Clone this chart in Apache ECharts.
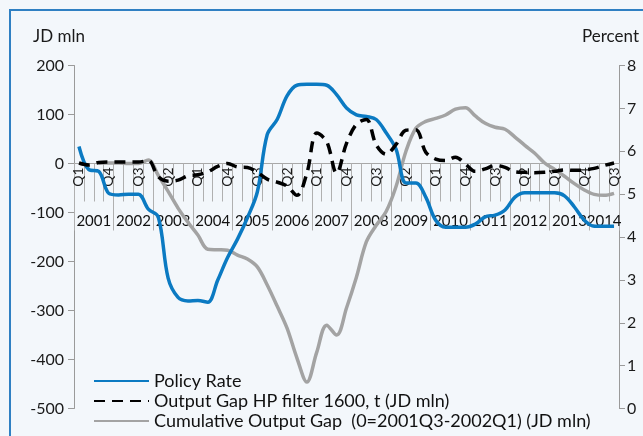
<!DOCTYPE html>
<html>
<head>
<meta charset="utf-8">
<script src="https://cdn.jsdelivr.net/npm/echarts@6/dist/echarts.min.js"></script>
<style>
html,body{margin:0;padding:0;background:#F3F7FB;}
#c{width:643px;height:436px;}
</style>
</head>
<body>
<div id="c"></div>
<script>
const years = ['2001','2002','2003','2004','2005','2006','2007','2008','2009','2010','2011','2012','2013','2014'];
const quarterNames = ['Q1','Q2','Q3','Q4'];
const lastYearQuarters = 3;
const leftTicks = [-500, 200, 100];   // min, max, interval (JD mln)
const rightTicks = [0, 8, 1];         // min, max, interval (Percent)

const policyRate = [6.11, 5.57, 5.53, 5.02, 4.98, 5.0, 5.0, 4.65, 4.47, 3.04, 2.59, 2.51, 2.52, 2.48, 2.99, 3.52, 3.95, 4.45, 5.05, 6.39, 6.74, 7.29, 7.54, 7.56, 7.56, 7.54, 7.32, 7.01, 6.85, 6.81, 6.74, 6.43, 6.05, 5.26, 5.26, 4.93, 4.39, 4.23, 4.23, 4.23, 4.30, 4.47, 4.51, 4.63, 4.93, 5.03, 5.03, 5.03, 5.03, 4.96, 4.70, 4.39, 4.25, 4.25, 4.25];
const outputGap = [1, -3, 2, 3, 3, 3, 3, 6, -27, -36, -34, -25, -23, -17, -6, 0, -7, -8, -18, -32, -38, -46, -65, -20, 62, 45, -20, 41, 80, 90, 38, 19, 39, 68, 69, 23, 9, 6, 13, -1, -16, -11, -4, -8, -17, -18, -19, -18, -16, -13, -14, -13, -10, -4, 1];
const cumGap = [null, null, 1, 1, 1, 0, 0, 7, -24, -57, -91, -120, -146, -175, -176, -177, -187, -195, -211, -248, -291, -336, -397, -446, -385, -330, -350, -295, -232, -160, -126, -98, -47, 25, 72, 86, 92, 99, 111, 114, 97, 82, 74, 70, 54, 37, 21, 1, -12, -26, -41, -54, -63, -65, -61];

const seriesNames = ['Policy Rate', 'Output Gap HP filter 1600, t (JD mln)', 'Cumulative Output Gap  (0=2001Q3-2002Q1) (JD mln)'];

const categories = [];
years.forEach((y, yi) => {
  const n = yi === years.length - 1 ? lastYearQuarters : 4;
  for (let q = 0; q < n; q++) categories.push(y + ' ' + quarterNames[q]);
});
const nQ = categories.length;

const yearCentres = {};
years.forEach((y, yi) => {
  const start = yi * 4;
  const end = Math.min(start + 4, nQ);
  yearCentres[((start + end) / 2).toFixed(1)] = y;
});

const GRID_TOP = 65.5, GRID_BOTTOM = 27.5, H = 436;
const plotH = H - GRID_TOP - GRID_BOTTOM;
// move the category axes up to the zero line of the left axis
const zeroOffset = -plotH * (0 - leftTicks[0]) / (leftTicks[1] - leftTicks[0]);

const FONT = 'Lato';
const chart = echarts.init(document.getElementById('c'), null, {renderer: 'canvas'});
chart.setOption({
  backgroundColor: '#F3F7FB',
  animation: false,
  textStyle: {fontFamily: FONT},
  graphic: [
    {type: 'rect', shape: {x: 10, y: 10, width: 700, height: 500}, style: {fill: 'none', stroke: '#2F80C3', lineWidth: 2}, silent: true},
    {type: 'text', left: 33, top: 28, style: {text: 'JD mln', font: '17px ' + FONT, fill: '#1a1a1a'}},
    {type: 'text', left: 582, top: 28, style: {text: 'Percent', font: '17px ' + FONT, fill: '#1a1a1a'}}
  ],
  grid: {left: 74, right: 24, top: GRID_TOP, bottom: GRID_BOTTOM, containLabel: false},
  legend: {
    orient: 'vertical', left: 93, top: 372, height: 80, padding: 0, itemWidth: 55, itemHeight: 14, itemGap: 2,
    textStyle: {fontSize: 18, color: '#111', fontFamily: FONT},
    itemStyle: {color: 'rgba(0,0,0,0)', borderColor: 'rgba(0,0,0,0)', borderWidth: 0},
    data: seriesNames
  },
  xAxis: [
    {
      type: 'category', data: categories, boundaryGap: true, position: 'bottom', offset: zeroOffset,
      axisLine: {onZero: false, lineStyle: {color: '#A8A8A8', width: 1}},
      axisTick: {show: true, interval: 0, length: 38, lineStyle: {color: '#B0B0B0'}},
      axisLabel: {interval: 2, rotate: 90, margin: 4, fontSize: 14, color: '#1a1a1a', fontFamily: FONT,
        formatter: v => v.split(' ')[1]},
      splitLine: {show: false}
    },
    {
      type: 'category', data: categories, boundaryGap: true, position: 'bottom', offset: zeroOffset,
      axisLine: {show: false, onZero: false},
      axisTick: {show: true, interval: (i) => i % 4 === 0, length: 67, lineStyle: {color: '#B0B0B0'}},
      axisLabel: {show: false},
      splitLine: {show: false}
    },
    {
      type: 'value', min: 0, max: nQ, interval: 0.5, position: 'bottom', offset: zeroOffset,
      axisLine: {show: false, onZero: false},
      axisTick: {show: false},
      splitLine: {show: false},
      axisLabel: {margin: 50, fontSize: 15, color: '#111', fontFamily: FONT, showMinLabel: false, showMaxLabel: false,
        formatter: v => yearCentres[v.toFixed(1)] || ''}
    }
  ],
  yAxis: [
    {
      type: 'value', min: leftTicks[0], max: leftTicks[1], interval: leftTicks[2], position: 'left',
      axisLine: {show: true, onZero: false, lineStyle: {color: '#9A9A9A'}},
      axisTick: {show: true, length: 6, lineStyle: {color: '#9A9A9A'}},
      splitLine: {show: false},
      axisLabel: {fontSize: 16, color: '#1a1a1a', margin: 10, fontFamily: FONT}
    },
    {
      type: 'value', min: rightTicks[0], max: rightTicks[1], interval: rightTicks[2], position: 'right',
      axisLine: {show: true, onZero: false, lineStyle: {color: '#9A9A9A'}},
      axisTick: {show: true, length: 6, lineStyle: {color: '#9A9A9A'}},
      splitLine: {show: false},
      axisLabel: {fontSize: 16, color: '#1a1a1a', margin: 8, fontFamily: FONT}
    }
  ],
  series: [
    {name: seriesNames[0], type: 'line', xAxisIndex: 0, yAxisIndex: 1, data: policyRate, smooth: 0.35, symbol: 'none', z: 3,
      lineStyle: {color: '#0B7AC2', width: 3.5}, itemStyle: {color: '#0B7AC2'}},
    {name: seriesNames[1], type: 'line', xAxisIndex: 0, yAxisIndex: 0, data: outputGap, smooth: 0.35, symbol: 'none', z: 4,
      lineStyle: {color: '#000', width: 3.5, type: [11, 7]}, itemStyle: {color: '#000'}},
    {name: seriesNames[2], type: 'line', xAxisIndex: 0, yAxisIndex: 0, data: cumGap, smooth: 0.35, symbol: 'none', z: 2,
      lineStyle: {color: '#A3A3A3', width: 3.5}, itemStyle: {color: '#A3A3A3'}}
  ]
});
</script>
</body>
</html>
